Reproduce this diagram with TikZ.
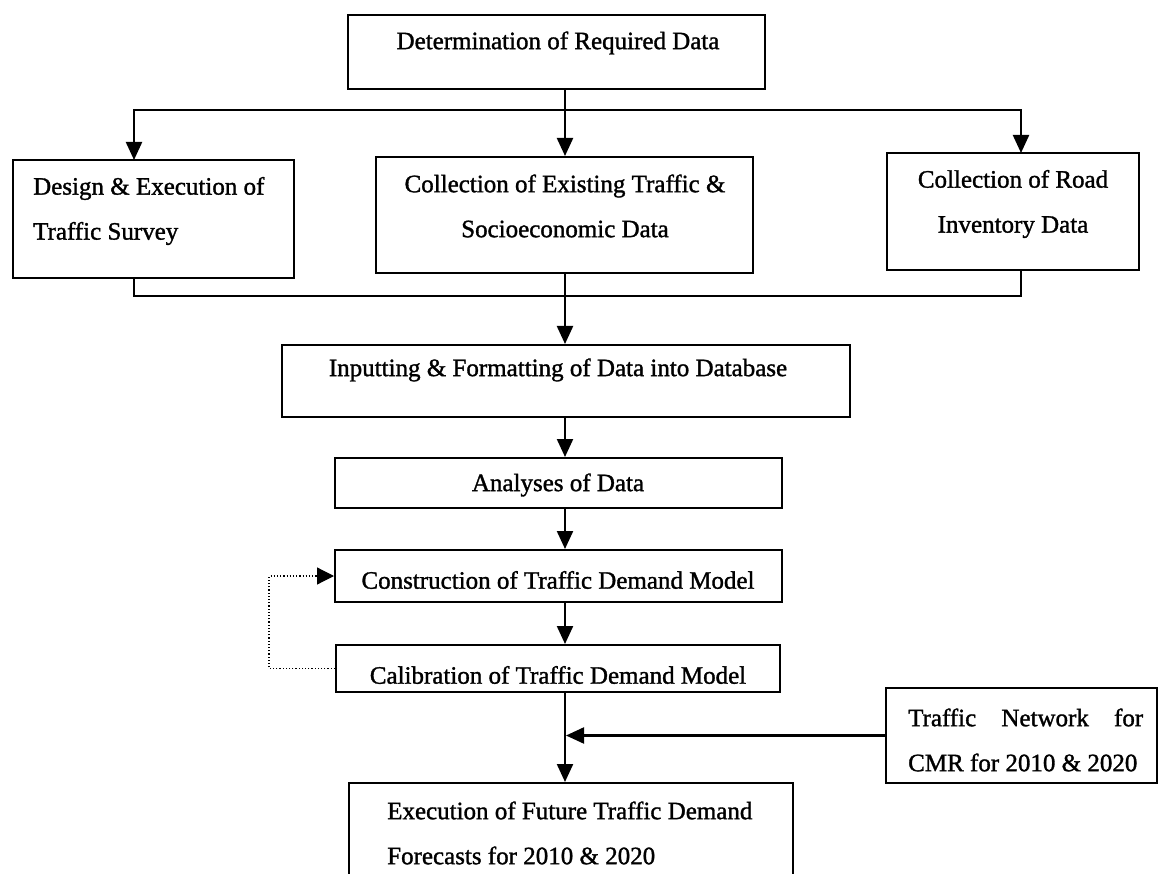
\documentclass[tikz,border=0pt]{standalone}
\usepackage{fontspec}
\setmainfont{Liberation Serif}[FakeBold=1.3]
\usetikzlibrary{arrows.meta,calc}
\begin{document}
\begin{tikzpicture}[x=1pt,y=-1pt,
  box/.style={draw,line width=2pt,rectangle,inner sep=0pt},
  txt/.style={inner sep=0pt,font=\fontsize{25}{45}\selectfont},
  link/.style={line width=2.2pt},
  arr/.style={line width=2.2pt,-{Triangle[length=18pt,width=16pt]}},
  fb/.style={line width=1.2pt,dotted,-{Triangle[length=17pt,width=17pt]}}]
\clip (0,0) rectangle (1159,874);
\fill[white] (0,0) rectangle (1159,874);
% boxes
\node[box,minimum width=417pt,minimum height=74pt] (det) at (556.5,52) {};
\node[txt] (detT) at (558,43) {Determination of Required Data};
\node[box,minimum width=281pt,minimum height=118pt] (design) at (153.5,219) {};
\node[txt,align=left,anchor=west] (designT) at (33,211) {Design \& Execution of\\Traffic Survey};
\node[box,minimum width=377pt,minimum height=116pt] (coll) at (564.5,215) {};
\node[txt,align=center] (collT) at (565,206) {Collection of Existing Traffic \&\\Socioeconomic Data};
\node[box,minimum width=252pt,minimum height=117pt] (road) at (1013,211.5) {};
\node[txt,align=center] (roadT) at (1013,204) {Collection of Road\\Inventory Data};
\node[box,minimum width=568pt,minimum height=72pt] (inp) at (566,381) {};
\node[txt] (inpT) at (558,370) {Inputting \& Formatting of Data into Database};
\node[box,minimum width=447pt,minimum height=50pt] (ana) at (558.5,483) {};
\node[txt] (anaT) at (558,485) {Analyses of Data};
\node[box,minimum width=447pt,minimum height=52pt] (cons) at (558.5,576) {};
\node[txt] (consT) at (558,580) {Construction of Traffic Demand Model};
\node[box,minimum width=444pt,minimum height=47pt] (cal) at (558,668.5) {};
\node[txt] (calT) at (558,675) {Calibration of Traffic Demand Model};
\node[box,minimum width=271pt,minimum height=95pt] (net) at (1021.5,735.5) {};
\node[txt,align=left,anchor=west] (netT) at (908,740) {\makebox[235pt][s]{Traffic\hfill Network\hfill for}\\CMR for 2010 \& 2020};
\node[box,minimum width=444pt,minimum height=160pt] (exec) at (571,863) {};
\node[txt,align=left,anchor=west] (execT) at (387,833) {Execution of Future Traffic Demand\\Forecasts for 2010 \& 2020};
% junction coordinates
\coordinate (jT) at (565,110);
\coordinate (jB) at (565,296);
\coordinate (dIn) at (134,160);
\coordinate (rIn) at (1021,153);
\coordinate (dOut) at (134,278);
\coordinate (rOut) at (1021,270);
% connectors
\draw[arr] (det.south -| jT) -- (coll.north -| jT);
\draw[arr] (jT) -| (dIn);
\draw[arr] (jT) -| (rIn);
\draw[link] (dOut) |- (jB);
\draw[link] (rOut) |- (jB);
\draw[arr] (coll.south -| jB) -- (inp.north -| jB);
\draw[arr] (inp.south -| jB) -- (ana.north -| jB);
\draw[arr] (ana.south -| jB) -- (cons.north -| jB);
\draw[arr] (cons.south -| jB) -- (cal.north -| jB);
\draw[arr] (cal.south -| jB) -- (exec.north -| jB);
\draw[arr] (net.west) -- ($(net.west -| jB)+(1,0)$);
\draw[fb] (cal.west) -- ++(-66,0) |- (cons.west);
\end{tikzpicture}
\end{document}
